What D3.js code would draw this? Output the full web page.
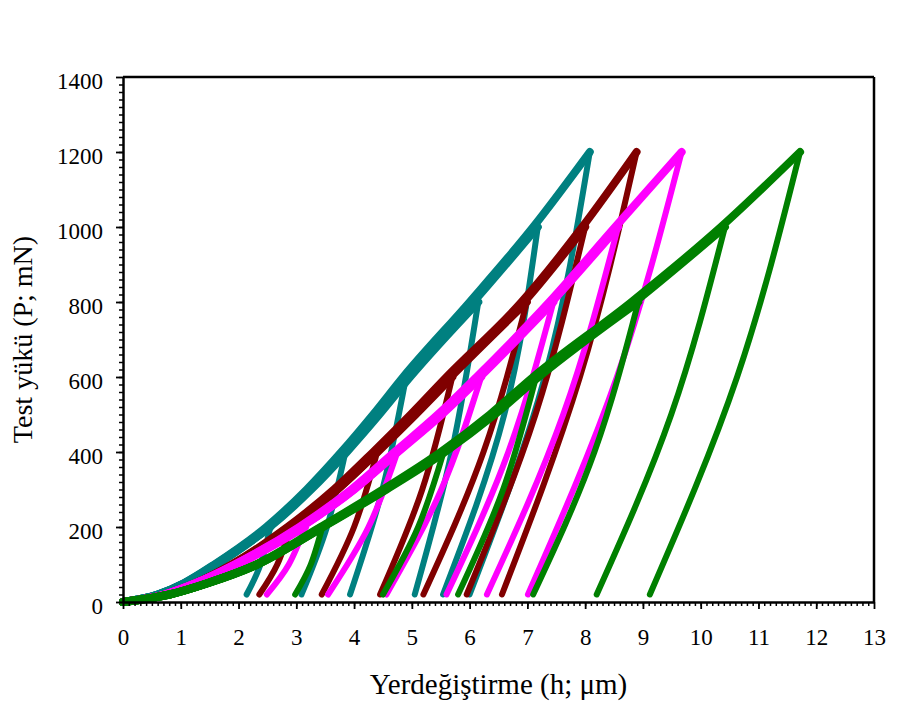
<!DOCTYPE html>
<html>
<head>
<meta charset="utf-8">
<script src="https://cdn.jsdelivr.net/npm/d3@7"></script>
<style>
  body { margin: 0; background: #fff; }
  svg text { font-family: "Liberation Serif", "Times New Roman", serif; fill: #000; }
</style>
</head>
<body>
<div id="chart"></div>
<script>
// load levels (mN) at which the loading curves were read
var loadLevels = [0, 20, 50, 100, 200, 300, 400, 500, 600, 800, 1000, 1200];
var peakLoads = [200, 400, 600, 800, 1000, 1200];
var endLoad = 20;

// depth (um) for each series
var tealLoad  = [0, 0.6, 1.05, 1.58, 2.48, 3.18, 3.78, 4.33, 4.85, 6.0, 7.1, 8.08];
var tealPeak  = [2.55, 3.85, 4.9, 6.15, 7.18, 8.08];
var tealMid   = [2.38, 3.53, 4.49, 5.69, 6.6, 7.3];
var tealEnd   = [2.14, 3.09, 3.93, 5.05, 5.54, 6.0];

var maroonLoad = [0, 0.72, 1.25, 1.88, 2.85, 3.65, 4.33, 4.98, 5.6, 6.9, 7.95, 8.89];
var maroonPeak = [2.9, 4.4, 5.7, 6.99, 8.0, 8.89];
var maroonMid  = [2.67, 4.0, 5.18, 6.24, 7.14, 7.91];
var maroonEnd  = [2.36, 3.44, 4.45, 5.2, 5.95, 6.56];

var magentaLoad = [0, 0.72, 1.25, 1.93, 3.05, 3.95, 4.7, 5.45, 6.12, 7.38, 8.52, 9.67];
var magentaPeak = [3.15, 4.75, 6.2, 7.45, 8.57, 9.67];
var magentaMid  = [2.87, 4.25, 5.51, 6.67, 7.62, 8.55];
var magentaEnd  = [2.49, 3.55, 4.56, 5.6, 6.3, 7.01];

var greenLoad = [0, 0.8, 1.45, 2.3, 3.42, 4.5, 5.5, 6.35, 7.1, 8.8, 10.35, 11.72];
var greenPeak = [3.45, 5.55, 7.15, 8.92, 10.42, 11.72];
var greenMid  = [3.25, 5.11, 6.58, 8.16, 9.49, 10.63];
var greenEnd  = [2.98, 4.5, 5.8, 7.1, 8.2, 9.12];

var series = [
    { color: "#008080", load: tealLoad, peak: tealPeak, mid: tealMid, end: tealEnd },
    { color: "#800000", load: maroonLoad, peak: maroonPeak, mid: maroonMid, end: maroonEnd },
    { color: "#ff00ff", load: magentaLoad, peak: magentaPeak, mid: magentaMid, end: magentaEnd },
    { color: "#008000", load: greenLoad, peak: greenPeak, mid: greenMid, end: greenEnd }
];

var xTicks = d3.range(0, 14);
var yTicks = d3.range(0, 1401, 200);

var W = 914, H = 708;
var margin = { left: 123, right: 40, top: 77, bottom: 106 };
var width = W - margin.left - margin.right,
    height = H - margin.top - margin.bottom;

var svg = d3.select("#chart").append("svg")
    .attr("width", W)
    .attr("height", H);

var g = svg.append("g")
    .attr("transform", "translate(" + margin.left + "," + margin.top + ")");

var x = d3.scaleLinear().domain([0, 13]).range([0, width]);
var y = d3.scaleLinear().domain([0, 1400]).range([height, 0]);

var loadLine = d3.line()
    .x(function(d){ return x(d[0]); })
    .y(function(d){ return y(d[1]); })
    .curve(d3.curveMonotoneX);

var unloadLine = d3.line()
    .x(function(d){ return x(d[0]); })
    .y(function(d){ return y(d[1]); })
    .curve(d3.curveNatural);

// curves
series.forEach(function(s){
    var sg = g.append("g");
    peakLoads.forEach(function(pmax, k){
        var idx = loadLevels.indexOf(pmax);
        var scale = s.peak[k] / s.load[idx];
        var loading = [];
        for (var i = 0; i < idx; i++) {
            loading.push([s.load[i] * scale, loadLevels[i]]);
        }
        loading.push([s.peak[k], pmax]);

        var unloading = [[s.end[k], endLoad], [s.mid[k], pmax / 2], [s.peak[k], pmax]];

        sg.append("path")
            .datum(loading)
            .attr("d", loadLine)
            .attr("fill", "none")
            .attr("stroke", s.color)
            .attr("stroke-width", 8)
            .attr("stroke-linecap", "round")
            .attr("stroke-linejoin", "round");

        sg.append("path")
            .datum(unloading)
            .attr("d", unloadLine)
            .attr("fill", "none")
            .attr("stroke", s.color)
            .attr("stroke-width", 6)
            .attr("stroke-linecap", "round")
            .attr("stroke-linejoin", "round");
    });
});

// minor ticks
g.append("g")
    .attr("transform", "translate(0," + height + ")")
    .call(d3.axisBottom(x).tickValues(d3.range(0, 130).map(function(d){ return d / 10; }))
        .tickSize(4).tickFormat(""))
    .call(function(a){ a.select(".domain").remove(); })
    .selectAll("line").attr("stroke-width", 1.5);

g.append("g")
    .call(d3.axisLeft(y).tickValues(d3.range(0, 1400, 20)).tickSize(4).tickFormat(""))
    .call(function(a){ a.select(".domain").remove(); })
    .selectAll("line").attr("stroke-width", 1.5);

// major axes
var xAxis = g.append("g")
    .attr("transform", "translate(0," + height + ")")
    .call(d3.axisBottom(x).tickValues(xTicks).tickSize(7).tickSizeOuter(0).tickFormat(d3.format("d")));
xAxis.selectAll("text")
    .attr("y", 43).attr("dy", 0)
    .attr("font-size", "23px");

var yAxis = g.append("g")
    .call(d3.axisLeft(y).tickValues(yTicks).tickSize(7).tickSizeOuter(0).tickFormat(d3.format("d")));
yAxis.selectAll("text")
    .attr("x", -20).attr("dy", "0.5em")
    .attr("font-size", "23px");

[xAxis, yAxis].forEach(function(a){
    a.select(".domain").attr("stroke-width", 2.5);
    a.selectAll(".tick line").attr("stroke-width", 1.8);
    a.attr("font-family", null);
});

// frame
g.append("line")
    .attr("x1", 0).attr("x2", width).attr("y1", 0).attr("y2", 0)
    .attr("stroke", "#000").attr("stroke-width", 2.5);
g.append("line")
    .attr("x1", width).attr("x2", width).attr("y1", 0).attr("y2", height)
    .attr("stroke", "#000").attr("stroke-width", 2.5);

// titles
svg.append("text")
    .attr("x", margin.left + width / 2)
    .attr("y", 694)
    .attr("text-anchor", "middle")
    .attr("font-size", "29px")
    .text("Yerdeğiştirme (h; μm)");

svg.append("text")
    .attr("transform", "translate(32," + (margin.top + height / 2) + ") rotate(-90)")
    .attr("text-anchor", "middle")
    .attr("font-size", "28px")
    .text("Test yükü (P; mN)");
</script>
</body>
</html>
